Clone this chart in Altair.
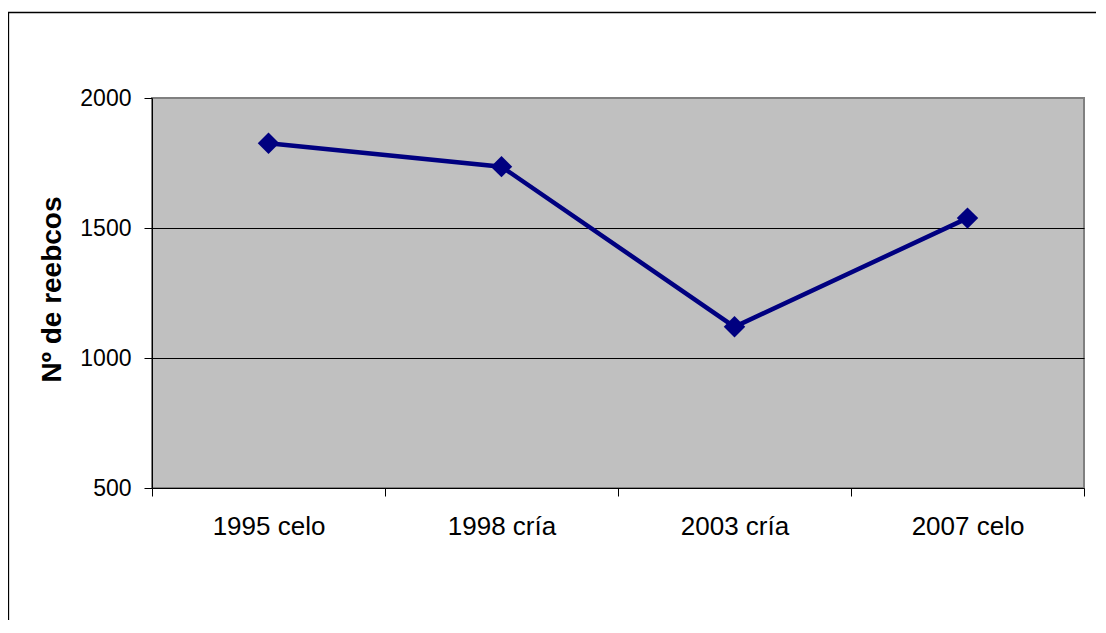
import altair as alt
import pandas as pd

# Data
categories = ["1995 celo", "1998 cría", "2003 cría", "2007 celo"]
values = [1826, 1736, 1120, 1538]
y_ticks = [500, 1000, 1500, 2000]

df = pd.DataFrame({"periodo": categories, "reebcos": values})

FONT = "Liberation Sans"
NAVY = "#000080"

x_enc = alt.X(
    "periodo:N",
    sort=categories,
    scale=alt.Scale(type="band", paddingInner=0, paddingOuter=0),
    axis=alt.Axis(
        title=None,
        labelAngle=0,
        tickBand="extent",
        labelFontSize=26,
        labelPadding=17,
        tickSize=8,
        grid=False,
    ),
)

y_enc = alt.Y(
    "reebcos:Q",
    scale=alt.Scale(domain=[500, 2000], nice=False, zero=False),
    axis=alt.Axis(
        title="Nº de reebcos",
        values=y_ticks,
        format="d",
        labelFontSize=23,
        labelPadding=13,
        tickSize=8,
        titleFontSize=28,
        titleFontWeight="bold",
        titleAngle=270,
        titleAlign="center",
        titleBaseline="alphabetic",
        titleX=-92,
        titleY=191,
        grid=True,
        gridColor="#000000",
        gridWidth=1,
        gridOpacity={
            "condition": {"test": "datum.value === 1000 || datum.value === 1500", "value": 1},
            "value": 0,
        },
    ),
)

frame = alt.Chart(alt.Data(values=[{}])).mark_rect(
    fillOpacity=0, stroke="#000000", strokeWidth=1.3
).encode(
    x=alt.value(-143.5),
    x2=alt.value(1100),
    y=alt.value(-85.5),
    y2=alt.value(700),
)

line = alt.Chart(df).mark_line(color=NAVY, strokeWidth=4.5).encode(x=x_enc, y=y_enc)
points = alt.Chart(df).mark_point(
    shape="diamond", size=460, filled=True, color=NAVY, opacity=1
).encode(x=x_enc, y=y_enc)

chart = (
    alt.layer(frame, line, points)
    .properties(
        width=932,
        height=390,
        autosize=alt.AutoSizeParams(type="none"),
        padding={"left": 144, "top": 90, "right": 12, "bottom": 132},
    )
    .configure_view(fill="#C0C0C0", stroke="#808080", strokeWidth=2)
    .configure_axis(
        labelFont=FONT,
        titleFont=FONT,
        labelColor="#000000",
        titleColor="#000000",
        domainColor="#000000",
        domainWidth=1,
        tickColor="#000000",
        tickWidth=1,
    )
)

chart.save("out.html", embed_options={"renderer": "svg", "actions": False})
